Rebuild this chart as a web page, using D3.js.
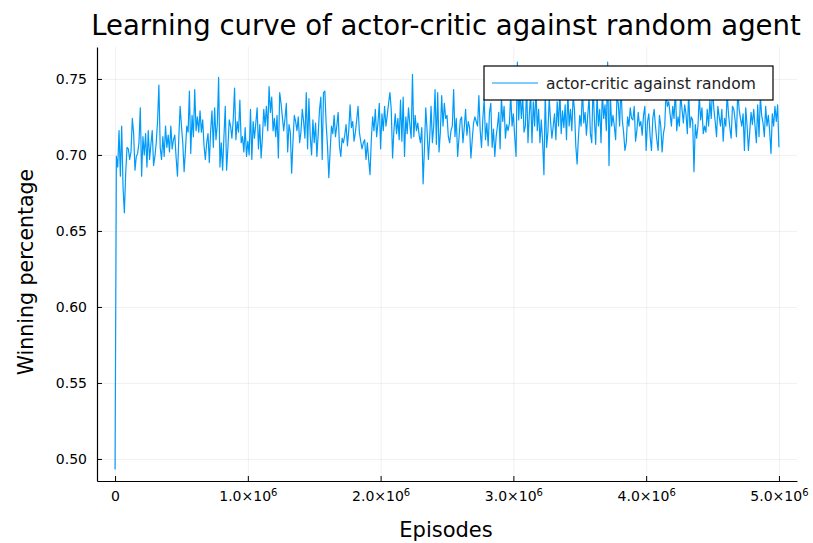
<!DOCTYPE html>
<html>
<head>
<meta charset="utf-8">
<script src="https://cdn.jsdelivr.net/npm/d3@7"></script>
<title>Learning curve of actor-critic against random agent</title>
<style>
  body { margin: 0; background: white; }
  svg { display: block; font-family: 'DejaVu Sans', sans-serif; }
</style>
</head>
<body>
<div id="chart"></div>
<script>
// winning percentage, evaluated every 10000 episodes
const winRate = [
  0.493, 0.699, 0.692, 0.716, 0.686, 0.719, 0.679, 0.662, 0.688, 0.705, 0.704, 0.697, 0.702, 0.724, 0.714, 0.690,
  0.699, 0.701, 0.708, 0.731, 0.686, 0.712, 0.700, 0.714, 0.692, 0.716, 0.697, 0.707, 0.716, 0.693, 0.699, 0.708,
  0.722, 0.746, 0.705, 0.697, 0.712, 0.699, 0.719, 0.705, 0.713, 0.702,
  0.719, 0.704, 0.710, 0.713, 0.698, 0.686, 0.711, 0.732, 0.719, 0.708, 0.689, 0.703, 0.719, 0.715, 0.742, 0.701,
  0.726, 0.712, 0.743, 0.716, 0.725, 0.715, 0.729, 0.715, 0.723, 0.706, 0.697, 0.708, 0.714, 0.695, 0.716, 0.729,
  0.705, 0.731, 0.710, 0.720, 0.751, 0.692, 0.708, 0.690, 0.712, 0.732, 0.690, 0.705, 0.723, 0.719, 0.711, 0.723,
  0.744, 0.710, 0.722, 0.715, 0.736,
  0.708, 0.712, 0.702, 0.718, 0.699, 0.709, 0.700, 0.730, 0.697, 0.722, 0.711, 0.721, 0.731, 0.704, 0.720, 0.698,
  0.712, 0.730, 0.719, 0.732, 0.716, 0.745, 0.728, 0.738, 0.716, 0.724, 0.712, 0.726, 0.698, 0.741, 0.734, 0.725,
  0.716, 0.724, 0.734, 0.702, 0.720, 0.715, 0.688, 0.709, 0.726, 0.722, 0.716, 0.725, 0.708, 0.715, 0.730, 0.722,
  0.711,
  0.741, 0.704, 0.737, 0.712, 0.700, 0.723, 0.708, 0.721, 0.699, 0.714, 0.730, 0.738, 0.697, 0.741, 0.742, 0.720,
  0.706, 0.685, 0.703, 0.719, 0.714, 0.726, 0.712, 0.719, 0.728, 0.706, 0.699, 0.711, 0.708, 0.713, 0.720, 0.706,
  0.716, 0.733, 0.718, 0.722, 0.709, 0.715, 0.723, 0.732, 0.715, 0.709, 0.704, 0.708, 0.710, 0.697, 0.708, 0.697,
  0.687,
  0.710, 0.725, 0.716, 0.730, 0.712, 0.721, 0.734, 0.704, 0.727, 0.716, 0.732, 0.719, 0.726, 0.734, 0.741, 0.730,
  0.698, 0.716, 0.727, 0.714, 0.724, 0.710, 0.736, 0.709, 0.738, 0.699, 0.725, 0.714, 0.731, 0.720, 0.711, 0.753,
  0.712, 0.726, 0.716, 0.721, 0.713, 0.708, 0.718, 0.681, 0.704, 0.731, 0.716, 0.697, 0.712, 0.732, 0.708, 0.719,
  0.743, 0.707, 0.741, 0.702, 0.715, 0.739, 0.719, 0.734, 0.724, 0.726, 0.712, 0.708, 0.716, 0.719, 0.743, 0.712,
  0.724, 0.699, 0.711, 0.723, 0.725, 0.708, 0.718, 0.730, 0.713, 0.722, 0.718, 0.698, 0.710, 0.721, 0.725, 0.722,
  0.719, 0.739, 0.716, 0.705, 0.724, 0.737, 0.710, 0.721, 0.706, 0.728, 0.734, 0.705, 0.717, 0.699, 0.712, 0.719,
  0.728, 0.704,
  0.738, 0.722, 0.732, 0.711, 0.720, 0.716, 0.721, 0.740, 0.719, 0.727, 0.712, 0.699, 0.761, 0.723, 0.742, 0.724,
  0.739, 0.715, 0.719, 0.745, 0.708, 0.727, 0.740, 0.708, 0.735, 0.719, 0.744, 0.716, 0.730, 0.708, 0.723, 0.709,
  0.687, 0.741, 0.705, 0.715, 0.738, 0.722, 0.711, 0.719, 0.727, 0.710, 0.735, 0.719, 0.742, 0.714, 0.729, 0.718,
  0.733,
  0.710, 0.741, 0.719, 0.730, 0.716, 0.739, 0.730, 0.706, 0.694, 0.712, 0.726, 0.719, 0.744, 0.721, 0.728, 0.713,
  0.726, 0.738, 0.714, 0.708, 0.747, 0.723, 0.707, 0.740, 0.719, 0.730, 0.708, 0.742, 0.724, 0.733, 0.716, 0.761,
  0.693, 0.740, 0.719, 0.726, 0.719, 0.710, 0.738, 0.734, 0.719, 0.746, 0.723, 0.715, 0.703, 0.708, 0.725, 0.719,
  0.731,
  0.724, 0.723, 0.732, 0.709, 0.716, 0.728, 0.719, 0.722, 0.713, 0.726, 0.732, 0.703, 0.722, 0.727, 0.712, 0.703,
  0.724, 0.730, 0.719, 0.710, 0.703, 0.726, 0.719, 0.702, 0.714, 0.719, 0.742, 0.732, 0.735, 0.727, 0.719, 0.732,
  0.724, 0.744, 0.716, 0.725, 0.719, 0.740, 0.730, 0.721, 0.733, 0.727, 0.714, 0.741, 0.718, 0.725, 0.723, 0.689,
  0.720, 0.711, 0.719, 0.739, 0.723, 0.731, 0.714, 0.719, 0.715, 0.730, 0.719, 0.736, 0.724, 0.745, 0.730, 0.722,
  0.712, 0.732, 0.725, 0.719, 0.730, 0.709, 0.724, 0.719, 0.740, 0.727, 0.718, 0.711, 0.732, 0.730, 0.723, 0.712,
  0.743, 0.730, 0.724, 0.719, 0.727, 0.703, 0.731, 0.719, 0.703, 0.715, 0.728, 0.720, 0.730, 0.719, 0.708, 0.733,
  0.712, 0.738, 0.726, 0.721, 0.712, 0.732, 0.719, 0.726, 0.716, 0.701, 0.727, 0.719, 0.732, 0.722, 0.733, 0.705
];
const evalEvery = 10000;

const xTicks = [0, 1e6, 2e6, 3e6, 4e6, 5e6];
const xTickLabels = ["0", "1.0×10^6", "2.0×10^6", "3.0×10^6", "4.0×10^6", "5.0×10^6"];
const yTicks = [0.50, 0.55, 0.60, 0.65, 0.70, 0.75];
const yTickLabels = ["0.50", "0.55", "0.60", "0.65", "0.70", "0.75"];
const seriesName = "actor-critic against random";

const w = 813;
const h = 543;
const plotLeft = 97, plotRight = 797, plotTop = 47, plotBottom = 481;
const lineColor = "#009af9";

const x = d3.scaleLinear().domain([-0.136e6, 5.136e6]).range([plotLeft, plotRight]);
const y = d3.scaleLinear().domain([0.4855, 0.771]).range([plotBottom, plotTop]);

const svg = d3.select("#chart")
    .append("svg")
    .attr("width", w)
    .attr("height", h);

// grid
svg.append("g")
    .attr("class", "grid")
    .attr("transform", `translate(0,${plotBottom})`)
    .call(d3.axisBottom(x).tickValues(xTicks).tickSize(-(plotBottom - plotTop)).tickFormat(""));
svg.append("g")
    .attr("class", "grid")
    .attr("transform", `translate(${plotLeft},0)`)
    .call(d3.axisLeft(y).tickValues(yTicks).tickSize(-(plotRight - plotLeft)).tickFormat(""));
svg.selectAll(".grid .domain").remove();
svg.selectAll(".grid line").attr("stroke", "#000").attr("stroke-opacity", 0.1).attr("stroke-width", 0.6);

// the curve
const line = d3.line()
    .x((d, i) => x(i * evalEvery))
    .y(d => y(d));

svg.append("path")
    .datum(winRate)
    .attr("fill", "none")
    .attr("stroke", lineColor)
    .attr("stroke-width", 1.2)
    .attr("stroke-linejoin", "round")
    .attr("d", line);

// x axis
const xAxis = svg.append("g")
    .attr("transform", `translate(0,${plotBottom})`)
    .call(d3.axisBottom(x).tickValues(xTicks).tickSizeInner(-5).tickSizeOuter(0).tickPadding(10)
        .tickFormat((d, i) => xTickLabels[i]));
xAxis.selectAll("text").each(function(d, i) {
    const parts = xTickLabels[i].split("^");
    const t = d3.select(this).text(parts[0]);
    if (parts[1]) {
        t.append("tspan").attr("dy", "-0.5em").attr("font-size", 10).text(parts[1]);
    }
});

// y axis
const yAxis = svg.append("g")
    .attr("transform", `translate(${plotLeft},0)`)
    .call(d3.axisLeft(y).tickValues(yTicks).tickSizeInner(-5).tickSizeOuter(0).tickPadding(10)
        .tickFormat((d, i) => yTickLabels[i]));

svg.selectAll(".domain").attr("stroke", "#000").attr("stroke-width", 1.2);
svg.selectAll(".tick text")
    .attr("font-family", "'DejaVu Sans', sans-serif")
    .attr("font-size", 14)
    .attr("fill", "#000");

// titles
svg.append("text")
    .attr("x", 446)
    .attr("y", 35)
    .attr("text-anchor", "middle")
    .attr("font-size", 27.5)
    .text("Learning curve of actor-critic against random agent");

svg.append("text")
    .attr("x", 446)
    .attr("y", 537)
    .attr("text-anchor", "middle")
    .attr("font-size", 21)
    .text("Episodes");

svg.append("text")
    .attr("transform", "translate(33,272) rotate(-90)")
    .attr("text-anchor", "middle")
    .attr("font-size", 20.5)
    .text("Winning percentage");

// legend
const legend = svg.append("g").attr("transform", "translate(484,66)");
legend.append("rect")
    .attr("width", 289)
    .attr("height", 34)
    .attr("fill", "#fff")
    .attr("stroke", "#000")
    .attr("stroke-width", 1.2);
legend.append("line")
    .attr("x1", 8).attr("x2", 54)
    .attr("y1", 17).attr("y2", 17)
    .attr("stroke", lineColor)
    .attr("stroke-width", 1.2);
legend.append("text")
    .attr("x", 62)
    .attr("y", 22.5)
    .attr("font-size", 15.5)
    .attr("fill", "#222")
    .text(seriesName);
</script>
</body>
</html>
